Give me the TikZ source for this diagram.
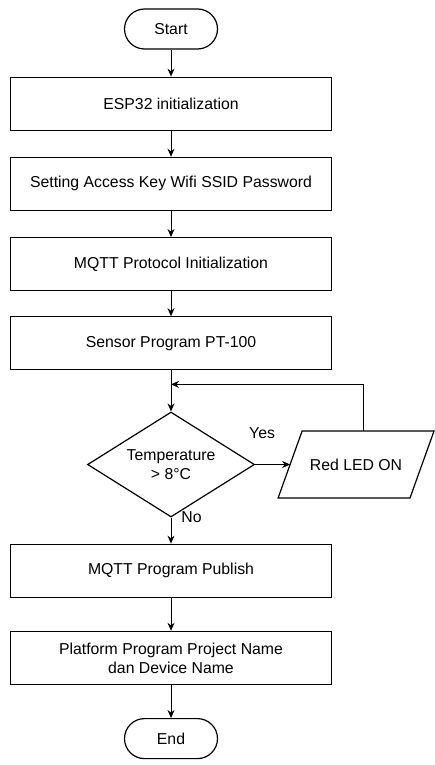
\documentclass[tikz,border=0pt]{standalone}
\usepackage{fontspec}
\setmainfont{Liberation Sans}
\usetikzlibrary{positioning,arrows.meta,shapes.geometric}

\begin{document}
\begin{tikzpicture}[x=1pt,y=1pt,node distance=26pt,
    every node/.style={font=\fontsize{15.8}{19}\selectfont},
    box/.style={draw,line width=1.2pt,minimum width=321pt,minimum height=53pt,align=center},
    term/.style={draw,line width=1.2pt,rounded corners=20pt,minimum width=93pt,minimum height=40pt},
    cond/.style={draw,diamond,line width=1.2pt,aspect=1.6,minimum width=167pt,minimum height=105pt,inner sep=0pt,align=center},
    io/.style={minimum width=131pt,minimum height=66pt},
    >={Stealth[length=8pt,width=7pt]},line width=0.9pt]
  \useasboundingbox (0,0) rectangle (434,-765);
  \node[term] (start) at (171,-29) {Start};
  \node[box, below=27pt of start] (init) {ESP32 initialization};
  \node[box, below=of init] (wifi) {Setting Access Key Wifi SSID Password};
  \node[box, below=of wifi] (mqtt) {MQTT Protocol Initialization};
  \node[box, below=25pt of mqtt] (sensor) {Sensor Program PT-100};
  \node[cond, below=41pt of sensor] (temp) {Temperature\\> 8°C};
  \node[io, right=35pt of temp] (led) {Red LED ON};
  \node[box, below=of temp] (publish) {MQTT Program Publish};
  \node[box, below=33pt of publish] (platform) {Platform Program Project Name\\dan Device Name};
  \node[term, below=33pt of platform] (finish) {End};
  \coordinate[above=27pt of temp.north] (join);

  % parallelogram around the output node
  \draw[line width=1.2pt] ([xshift=12pt]led.north west) -- ([xshift=12pt]led.north east)
    -- ([xshift=-12pt]led.south east) -- ([xshift=-12pt]led.south west) -- cycle;

  \draw[->] (start) -- (init);
  \draw[->] (init) -- (wifi);
  \draw[->] (wifi) -- (mqtt);
  \draw[->] (mqtt) -- (sensor);
  \draw[->] (sensor) -- (temp);
  \draw[->] (temp) -- node[pos=0.2,above=25pt,inner sep=0pt]{Yes} (led);
  \draw[->] ([xshift=7pt]led.north) |- (join);
  \draw[->] (temp) -- node[pos=0,right=10pt,inner sep=0pt]{No} (publish);
  \draw[->] (publish) -- (platform);
  \draw[->] (platform) -- (finish);
\end{tikzpicture}
\end{document}
